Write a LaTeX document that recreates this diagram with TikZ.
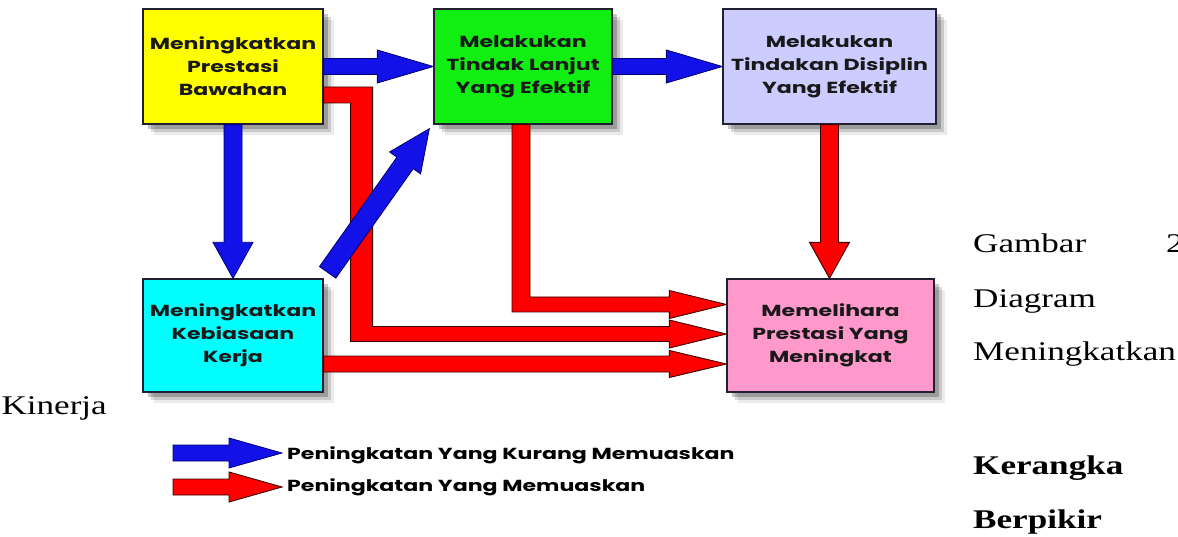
\documentclass[tikz,border=0pt]{standalone}
\usepackage{fontspec}
\setmainfont{Liberation Serif}
\newfontfamily\docfont{Liberation Serif}[FakeStretch=1.3]
\newfontfamily\gothic{Poppins}[FakeStretch=1.38]
\usetikzlibrary{calc,shadows}
\definecolor{cyel}{HTML}{FFFF00}
\definecolor{cgrn}{HTML}{11EE11}
\definecolor{clav}{HTML}{CCCCFF}
\definecolor{ccya}{HTML}{00FFFF}
\definecolor{cpnk}{HTML}{FF99CC}
\definecolor{ablue}{HTML}{1212E8}
\definecolor{ablueD}{HTML}{000070}
\definecolor{ared}{HTML}{FF0000}
\definecolor{aredD}{HTML}{3A0000}
\definecolor{boxline}{HTML}{202030}
% straight block arrow: #1 style, #2 from, #3 tip, #4 shaft half width, #5 head half width, #6 head length
\newcommand\blockarr[6]{%
  \coordinate (ba-h) at ($(#3)!#6!(#2)$);
  \draw[#1] ($(#2)!#4!90:(#3)$) -- ($(ba-h)!#4!-90:(#2)$) -- ($(ba-h)!#5!-90:(#2)$)
    -- (#3) -- ($(ba-h)!#5!90:(#2)$) -- ($(ba-h)!#4!90:(#2)$) -- ($(#2)!#4!-90:(#3)$) -- cycle;}
\begin{document}
\begin{tikzpicture}[x=1pt,y=-1pt,
  box/.style={draw=boxline, line width=1.3pt, inner sep=0pt, align=center,
    font=\gothic\bfseries\fontsize{16}{23}\selectfont, text=black!90,
    general shadow={fill=black, opacity=.08, shadow xshift=11pt, shadow yshift=-11pt},
    general shadow={fill=black, opacity=.14, shadow xshift=8pt, shadow yshift=-8pt},
    general shadow={fill=black, opacity=.22, shadow xshift=5pt, shadow yshift=-5pt}},
  blueA/.style={fill=ablue, draw=ablueD, line width=0.8pt, line join=miter},
  redA/.style={fill=ared, draw=aredD, line width=0.9pt, line join=miter},
  legtext/.style={anchor=west, inner sep=0pt, font=\gothic\bfseries\fontsize{16}{20}\selectfont},
  doctext/.style={inner sep=0pt, font=\docfont\fontsize{27}{32}\selectfont},
  docbold/.style={inner sep=0pt, font=\docfont\bfseries\fontsize{27}{32}\selectfont}]
\useasboundingbox (0,0) rectangle (1178,537);
\fill[white] (0,0) rectangle (1178,537);
\clip (0,0) rectangle (1178,537);

% boxes
\node[box, fill=cyel, minimum width=180pt, minimum height=115pt] (Y) at (233,66.5)
  {Meningkatkan\\Prestasi\\Bawahan};
\node[box, fill=cgrn, minimum width=178pt, minimum height=115pt] (G) at (523,66.5)
  {Melakukan\\Tindak Lanjut\\Yang Efektif};
\node[box, fill=clav, minimum width=213pt, minimum height=115pt] (L) at (829.5,66.5)
  {Melakukan\\Tindakan Disiplin\\Yang Efektif};
\node[box, fill=ccya, minimum width=180pt, minimum height=113pt] (C) at (233,335.5)
  {Meningkatkan\\Kebiasaan\\Kerja};
\node[box, fill=cpnk, minimum width=207pt, minimum height=113pt] (P) at (830.5,335.5)
  {Memelihara\\Prestasi Yang\\Meningkat};

% tip points on the pink box
\coordinate (T1) at ($(P.west)+(0,-31)$);
\coordinate (T2) at ($(P.west)+(0,-1.5)$);
\coordinate (T3) at ($(P.west)+(0,28.5)$);
\coordinate (r3s) at ($(C.east)+(0,28.5)$);

% red arrows
\draw[redA] ($(G.south)+(-11,0)$) |- ($(T1)+(-57,7.5)$) -- ++(0,6.5) -- (T1)
  -- ++(-57,-14) -- ++(0,6.5) -| ($(G.south)+(7,0)$) -- cycle;
\draw[redA] ($(Y.east)+(0,20.5)$) -- ++(49,0) |- ($(T2)+(-57,-7.5)$) -- ++(0,-6.5) -- (T2)
  -- ++(-57,14) -- ++(0,-6.5) -| ($(Y.east)+(27,36.5)$) -- ($(Y.east)+(0,36.5)$) -- cycle;
\blockarr{redA}{r3s}{T3}{8pt}{13.5pt}{57pt}
\coordinate (r4e) at (L.south |- P.north);
\blockarr{redA}{L.south}{r4e}{9pt}{20pt}{36pt}

% blue arrows
\blockarr{blueA}{Y.east}{G.west}{8pt}{16.5pt}{56pt}
\blockarr{blueA}{G.east}{L.west}{8pt}{16.5pt}{56pt}
\blockarr{blueA}{Y.south}{C.north}{9pt}{20pt}{36pt}
\coordinate (b4s) at ($(C.north east)+(4,-6)$);
\coordinate (b4e) at ($(G.south west)+(-4,4)$);
\blockarr{blueA}{b4s}{b4e}{10pt}{19pt}{42pt}

% legend
\coordinate (lb1) at (173,453); \coordinate (lb2) at (282,453);
\coordinate (lr1) at (173,487); \coordinate (lr2) at (282,487);
\blockarr{blueA}{lb1}{lb2}{8pt}{15pt}{53pt}
\blockarr{redA}{lr1}{lr2}{8pt}{15pt}{53pt}
\node[legtext] (lt1) at (287,455) {Peningkatan Yang Kurang Memuaskan};
\node[legtext] (lt2) at (287,487) {Peningkatan Yang Memuaskan};

% surrounding document text
\node[doctext, anchor=base west] (d1) at (973,253) {Gambar};
\node[doctext, anchor=base west] (d2) at (1166,253) {2};
\node[doctext, anchor=base west] (d3) at (973,308) {Diagram};
\node[doctext, anchor=base west] (d4) at (973,360) {Meningkatkan};
\node[doctext, anchor=base east] (d5) at (107,414) {Kinerja};
\node[docbold, anchor=base west] (d6) at (973,474) {Kerangka};
\node[docbold, anchor=base west] (d7) at (973,528) {Berpikir};
\end{tikzpicture}
\end{document}
